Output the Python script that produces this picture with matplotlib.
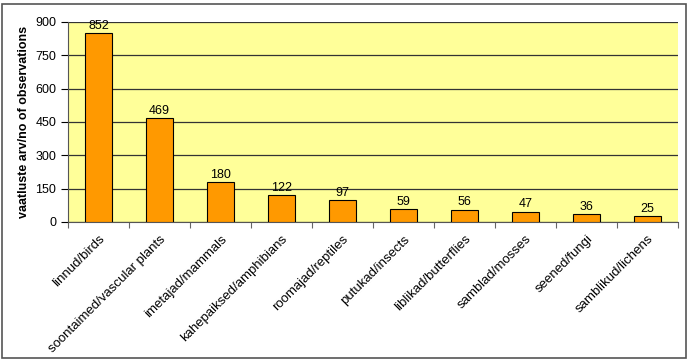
import matplotlib
matplotlib.use("Agg")
import matplotlib.pyplot as plt
from matplotlib.patches import Rectangle

categories = ["linnud/birds", "soontaimed/vascular plants", "imetajad/mammals",
              "kahepaiksed/amphibians", "roomajad/reptiles", "putukad/insects",
              "liblikad/butterflies", "samblad/mosses", "seened/fungi",
              "samblikud/lichens"]
counts = [852, 469, 180, 122, 97, 59, 56, 47, 36, 25]
yticks = [0, 150, 300, 450, 600, 750, 900]

plt.rcParams['font.family'] = ['Liberation Sans', 'DejaVu Sans']

fig = plt.figure(figsize=(6.89, 3.62), dpi=100)
ax = fig.add_axes([68/689, 1 - 222/362, 610/689, 200/362])
ax.set_facecolor('#FFFF99')

x = list(range(len(categories)))
ax.bar(x, counts, width=0.43, color='#FF9900', edgecolor='black', linewidth=0.8, zorder=3)
for xi, v in zip(x, counts):
    ax.text(xi, v + 5, str(v), ha='center', va='bottom', fontsize=9, zorder=4)

ax.set_xlim(-0.5, len(categories) - 0.5)
ax.set_ylim(0, 900)
ax.set_yticks(yticks)
ax.yaxis.grid(True, color='#333333', linewidth=0.9, zorder=0)
ax.set_axisbelow(True)
ax.tick_params(axis='y', labelsize=9, length=5, direction='out')
ax.set_xticks([i - 0.5 for i in range(len(categories) + 1)], minor=False)
ax.set_xticklabels([])
ax.tick_params(axis='x', length=4, direction='out', color='#666666')
ax.set_xticks(x, minor=True)
ax.set_xticklabels(categories, minor=True, rotation=45, ha='right',
                   rotation_mode='anchor', fontsize=9.5)
ax.tick_params(axis='x', which='minor', length=0, pad=8)
for s in ['top', 'right']:
    ax.spines[s].set_visible(False)
ax.spines['left'].set_color('#555555')
ax.spines['bottom'].set_color('#555555')
ax.set_ylabel('vaatluste arv/no of observations', fontsize=9, fontweight='bold')

fig.patches.append(Rectangle((2/689, 4/362), 684/689, 354/362, transform=fig.transFigure,
                             fill=False, edgecolor='#555555', linewidth=1.2))

fig.savefig('out.png', dpi=100)
